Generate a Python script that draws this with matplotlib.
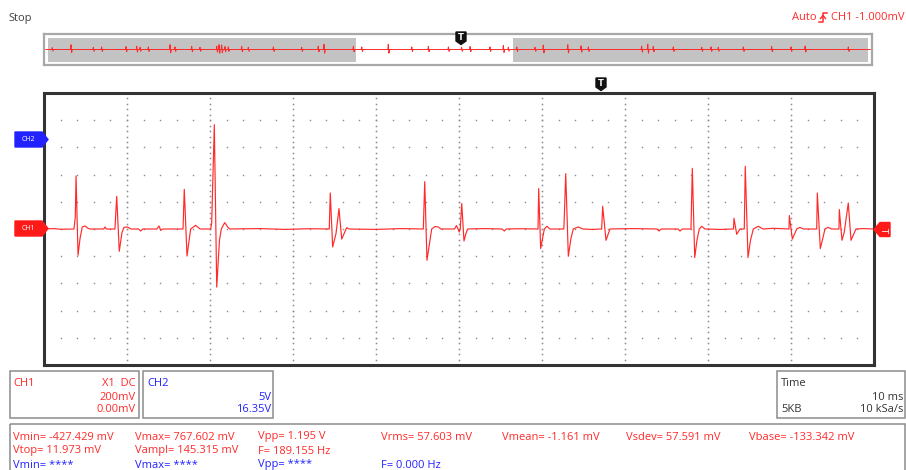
import numpy as np
import matplotlib.pyplot as plt
from matplotlib.patches import Rectangle, Polygon

plt.rcParams['font.family'] = ['Open Sans', 'DejaVu Sans']

# CH1 trace vertices: time (ms) and voltage (mV), 10 ms/div, 200 mV/div
trace_t_ms = [
    0, 1.2, 2.0,
    3.61, 3.77, 3.86, 4.10, 4.34, 4.61, 4.94, 5.30, 5.54,
    7.20, 7.35, 7.50,
    8.55, 8.76, 9.07, 9.40, 9.64, 10.04, 10.5,
    11.4, 11.65, 11.9, 13.6, 13.86, 14.06, 14.3,
    16.75, 16.90, 17.23, 17.67, 18.27, 18.8,
    20.08, 20.20, 20.52, 20.81, 21.14, 21.36, 21.77, 22.17, 22.4,
    26.0, 29.0, 32.0,
    34.37, 34.49, 34.78, 35.18, 35.54, 35.87, 36.47, 36.75,
    40.0, 43.0,
    45.70, 45.87, 46.14, 46.71, 47.11, 47.5, 47.83,
    49.45, 49.70, 49.85, 50.02, 50.15, 50.33, 50.60, 50.85, 51.05,
    53.0, 55.2, 55.46, 55.7, 57.5,
    59.52, 59.60, 59.84, 60.28, 60.6, 60.96,
    62.63, 62.69, 62.86, 63.17, 63.49, 63.77, 64.37, 64.94,
    66.0,
    67.19, 67.31, 67.71, 68.19,
    71.0, 73.85, 74.10, 74.35, 76.4, 76.63, 76.9,
    77.95, 78.11, 78.40, 78.67, 78.95, 79.24, 79.64,
    81.5, 83.07, 83.13, 83.46, 83.86,
    84.37, 84.49, 84.82, 85.12, 85.46, 86.06, 86.63,
    87.83,
    89.76, 89.80, 90.16, 90.69, 91.08, 91.5,
    93.10, 93.17, 93.53, 94.10, 94.46, 94.9,
    95.78, 95.82, 96.14, 96.42, 96.90, 97.23, 97.83, 98.6, 100.0,
]
trace_mv = [
    0, 3, -2,
    0, 88, 390, -193, -70, 15, 22, 5, 0,
    0, 15, 0,
    0, 240, -164, -24, 12, 15, 0,
    0, -15, 0, 0, 22, -10, 0,
    0, 292, -199, 0, 27, 0,
    0, 40, 767, -427, -83, 0, 47, 12, 0,
    3, -3, 2,
    0, 265, -132, -34, 150, -74, 10, 0,
    -3, 3,
    0, 348, -230, 0, 18, 15, 0,
    0, 25, 5, -22, 0, 187, -88, -30, 0,
    3, 0, -15, 0, 2,
    0, 297, -144, 0, 20, 0,
    0, 93, 407, -201, -68, 0, 15, 0,
    -3,
    0, 167, -83, 0,
    3, 0, -15, 0, 0, -15, 0,
    0, 446, -210, -83, 0, 20, 0,
    -3, 0, 79, -39, 0,
    0, 461, -210, -83, 0, 20, 0,
    5,
    0, 99, -74, 0, 12, 0,
    0, 265, -144, 0, 12, 0,
    0, 143, -83, -22, 191, -83, 0, 3, 0,
]

# overview strip (whole 5K record, ~500 ms): spike times and sizes
ov_t_ms = [5.0, 16.3, 29.8, 34.8, 49.5, 56.0, 58.0, 63.0, 76.1, 79.1, 89.2, 94.2,
           104.3, 105.7, 107.3, 109.3, 111.3, 119.4, 123.4, 138.5, 155.6, 165.6,
           169.1, 186.8, 191.9, 207.9, 222.1, 232.1, 244.2, 252.2, 257.3, 269.3,
           277.4, 280.4, 285.5, 296.5, 301.5, 316.3, 324.3, 328.7, 360.9, 364.6,
           367.9, 380.0, 397.2, 402.8, 407.2, 422.3, 439.4, 451.1, 459.6, 485.7]
ov_up_mv = [250, 650, 300, 350, 400, 450, 300, 350, 650, 350, 400, 300,
            450, 650, 600, 400, 350, 400, 300, 350, 300, 450,
            700, 400, 350, 700, 350, 400, 350, 300, 400, 350,
            550, 300, 350, 300, 600, 650, 500, 350, 450, 700,
            400, 350, 300, 350, 300, 350, 400, 350, 450, 350]
ov_down_mv = [-200, -400, -250, -250, -300, -350, -250, -250, -450, -250, -300, -250,
              -350, -500, -450, -300, -250, -300, -250, -250, -250, -300,
              -500, -300, -250, -500, -250, -300, -250, -250, -300, -250,
              -400, -250, -250, -250, -450, -450, -350, -250, -350, -500,
              -300, -250, -250, -250, -250, -250, -300, -250, -350, -250]

meas_row1 = ['Vmin= -427.429 mV', 'Vmax= 767.602 mV', 'Vpp= 1.195 V', 'Vrms= 57.603 mV',
             'Vmean= -1.161 mV', 'Vsdev= 57.591 mV', 'Vbase= -133.342 mV']
meas_row2 = ['Vtop= 11.973 mV', 'Vampl= 145.315 mV', 'F= 189.155 Hz']
meas_row3 = ['Vmin= ****', 'Vmax= ****', 'Vpp= ****', 'F= 0.000 Hz']
meas_cols_px = [13, 135, 258, 381, 502, 626, 749]

RED = '#ff2a2a'
BLUE = '#2222ff'
W, H = 906, 470

fig = plt.figure(figsize=(W / 100, H / 100), dpi=100)


def px_axes(x0, y0, x1, y1):
    return fig.add_axes([x0 / W, 1 - y1 / H, (x1 - x0) / W, (y1 - y0) / H])


# main screen
ax = px_axes(44, 93, 874, 365)
ax.set_xlim(0, 100)
ax.set_ylim(-1000, 1000)
ax.set_xticks([])
ax.set_yticks([])
for s in ax.spines.values():
    s.set_color('#333333')
    s.set_linewidth(2.2)

# dotted graticule
gx = np.arange(2, 100, 2)
for yy in np.arange(-800, 801, 200):
    ax.plot(gx, np.full_like(gx, yy, dtype=float), ls='none', marker='s',
            ms=1.0, mew=0, color='#8a8a8a')
gy = np.arange(-960, 961, 40)
for xx in np.arange(10, 100, 10):
    ax.plot(np.full_like(gy, xx, dtype=float), gy, ls='none', marker='s',
            ms=1.1, mew=0, color='#8a8a8a')

ax.plot(trace_t_ms, trace_mv, color=RED, lw=0.85, solid_joinstyle='round')

# overview strip
ov = px_axes(44, 34, 872, 65)
ov.set_xlim(0, 500)
ov.set_ylim(-2100, 2100)
ov.set_xticks([])
ov.set_yticks([])
for s in ov.spines.values():
    s.set_color('#a8a8a8')
    s.set_linewidth(1.6)
ov.axvspan(2.4, 188.4, ymin=0.1, ymax=0.87, color='#c3c3c3', lw=0)
ov.axvspan(283.2, 497.6, ymin=0.1, ymax=0.87, color='#c3c3c3', lw=0)
ox, oy = [1.0], [0.0]
for t, up, dn in zip(ov_t_ms, ov_up_mv, ov_down_mv):
    ox += [t - 0.3, t, t + 0.4, t + 0.8]
    oy += [0, up, dn, 0]
ox.append(499.0)
oy.append(0)
ov.plot(ox, oy, color=RED, lw=0.7)

# overlay in pixel coordinates for labels and markers
top = fig.add_axes([0, 0, 1, 1])
top.set_xlim(0, W)
top.set_ylim(H, 0)
top.axis('off')

top.text(8, 18, 'Stop', color='#404040', fontsize=8, va='center')
top.text(792, 18, 'Auto', color=RED, fontsize=8, va='center')
top.plot([819, 823, 823, 827], [22, 22, 13, 13], color=RED, lw=1.1)
top.plot([820.5, 823, 825.5], [18.5, 15.5, 18.5], color=RED, lw=1.0)
top.text(831, 18, 'CH1 -1.000mV', color=RED, fontsize=8, va='center')

# trigger position markers
for cx, y0 in [(601, 78), (461, 32)]:
    top.add_patch(Polygon([(cx - 5, y0), (cx + 5, y0), (cx + 5, y0 + 9),
                           (cx, y0 + 12.5), (cx - 5, y0 + 9)], color='#111111'))
    top.text(cx, y0 + 5.5, 'T', color='white', fontsize=6, fontweight='bold',
             ha='center', va='center', family='DejaVu Sans')

# channel markers
for yc, col, lab in [(139.5, BLUE, 'CH2'), (228.5, '#ff1a1a', 'CH1')]:
    top.add_patch(Polygon([(15, yc - 7.5), (42, yc - 7.5), (48, yc), (42, yc + 7.5),
                           (15, yc + 7.5)], color=col))
    top.text(28, yc, lab, color='white', fontsize=5, ha='center', va='center')
top.add_patch(Polygon([(874, 229.5), (880, 222.5), (890, 222.5), (890, 236.5),
                       (880, 236.5)], color='#ff1a1a'))
top.text(884, 229.5, 'T', color='white', fontsize=6, rotation=-90,
         ha='center', va='center', family='DejaVu Sans')

# info boxes
for x0, y0, x1, y1 in [(10, 371, 139, 418), (143, 371, 273, 418), (777, 371, 905, 418),
                       (10, 424, 905, 480)]:
    top.add_patch(Rectangle((x0, y0), x1 - x0, y1 - y0, fill=False,
                            ec='#8c8c8c', lw=1.1))

top.text(13, 383, 'CH1', color=RED, fontsize=8, va='center')
top.text(136, 383, 'X1  DC', color=RED, fontsize=8, va='center', ha='right')
top.text(136, 397, '200mV', color=RED, fontsize=8, va='center', ha='right')
top.text(136, 410, '0.00mV', color=RED, fontsize=8, va='center', ha='right')
top.text(147, 383, 'CH2', color=BLUE, fontsize=8, va='center')
top.text(271, 397, '5V', color=BLUE, fontsize=8, va='center', ha='right')
top.text(271, 410, '16.35V', color=BLUE, fontsize=8, va='center', ha='right')
top.text(781, 383, 'Time', color='#333333', fontsize=8, va='center')
top.text(903, 397, '10 ms', color='#333333', fontsize=8, va='center', ha='right')
top.text(781, 410, '5KB', color='#333333', fontsize=8, va='center')
top.text(903, 410, '10 kSa/s', color='#333333', fontsize=8, va='center', ha='right')

for row, yy, col in [(meas_row1, 437, RED), (meas_row2, 451, RED), (meas_row3, 465, BLUE)]:
    for i, txt in enumerate(row):
        top.text(meas_cols_px[i], yy, txt, color=col, fontsize=8, va='center')

fig.savefig('out.png', dpi=100)
